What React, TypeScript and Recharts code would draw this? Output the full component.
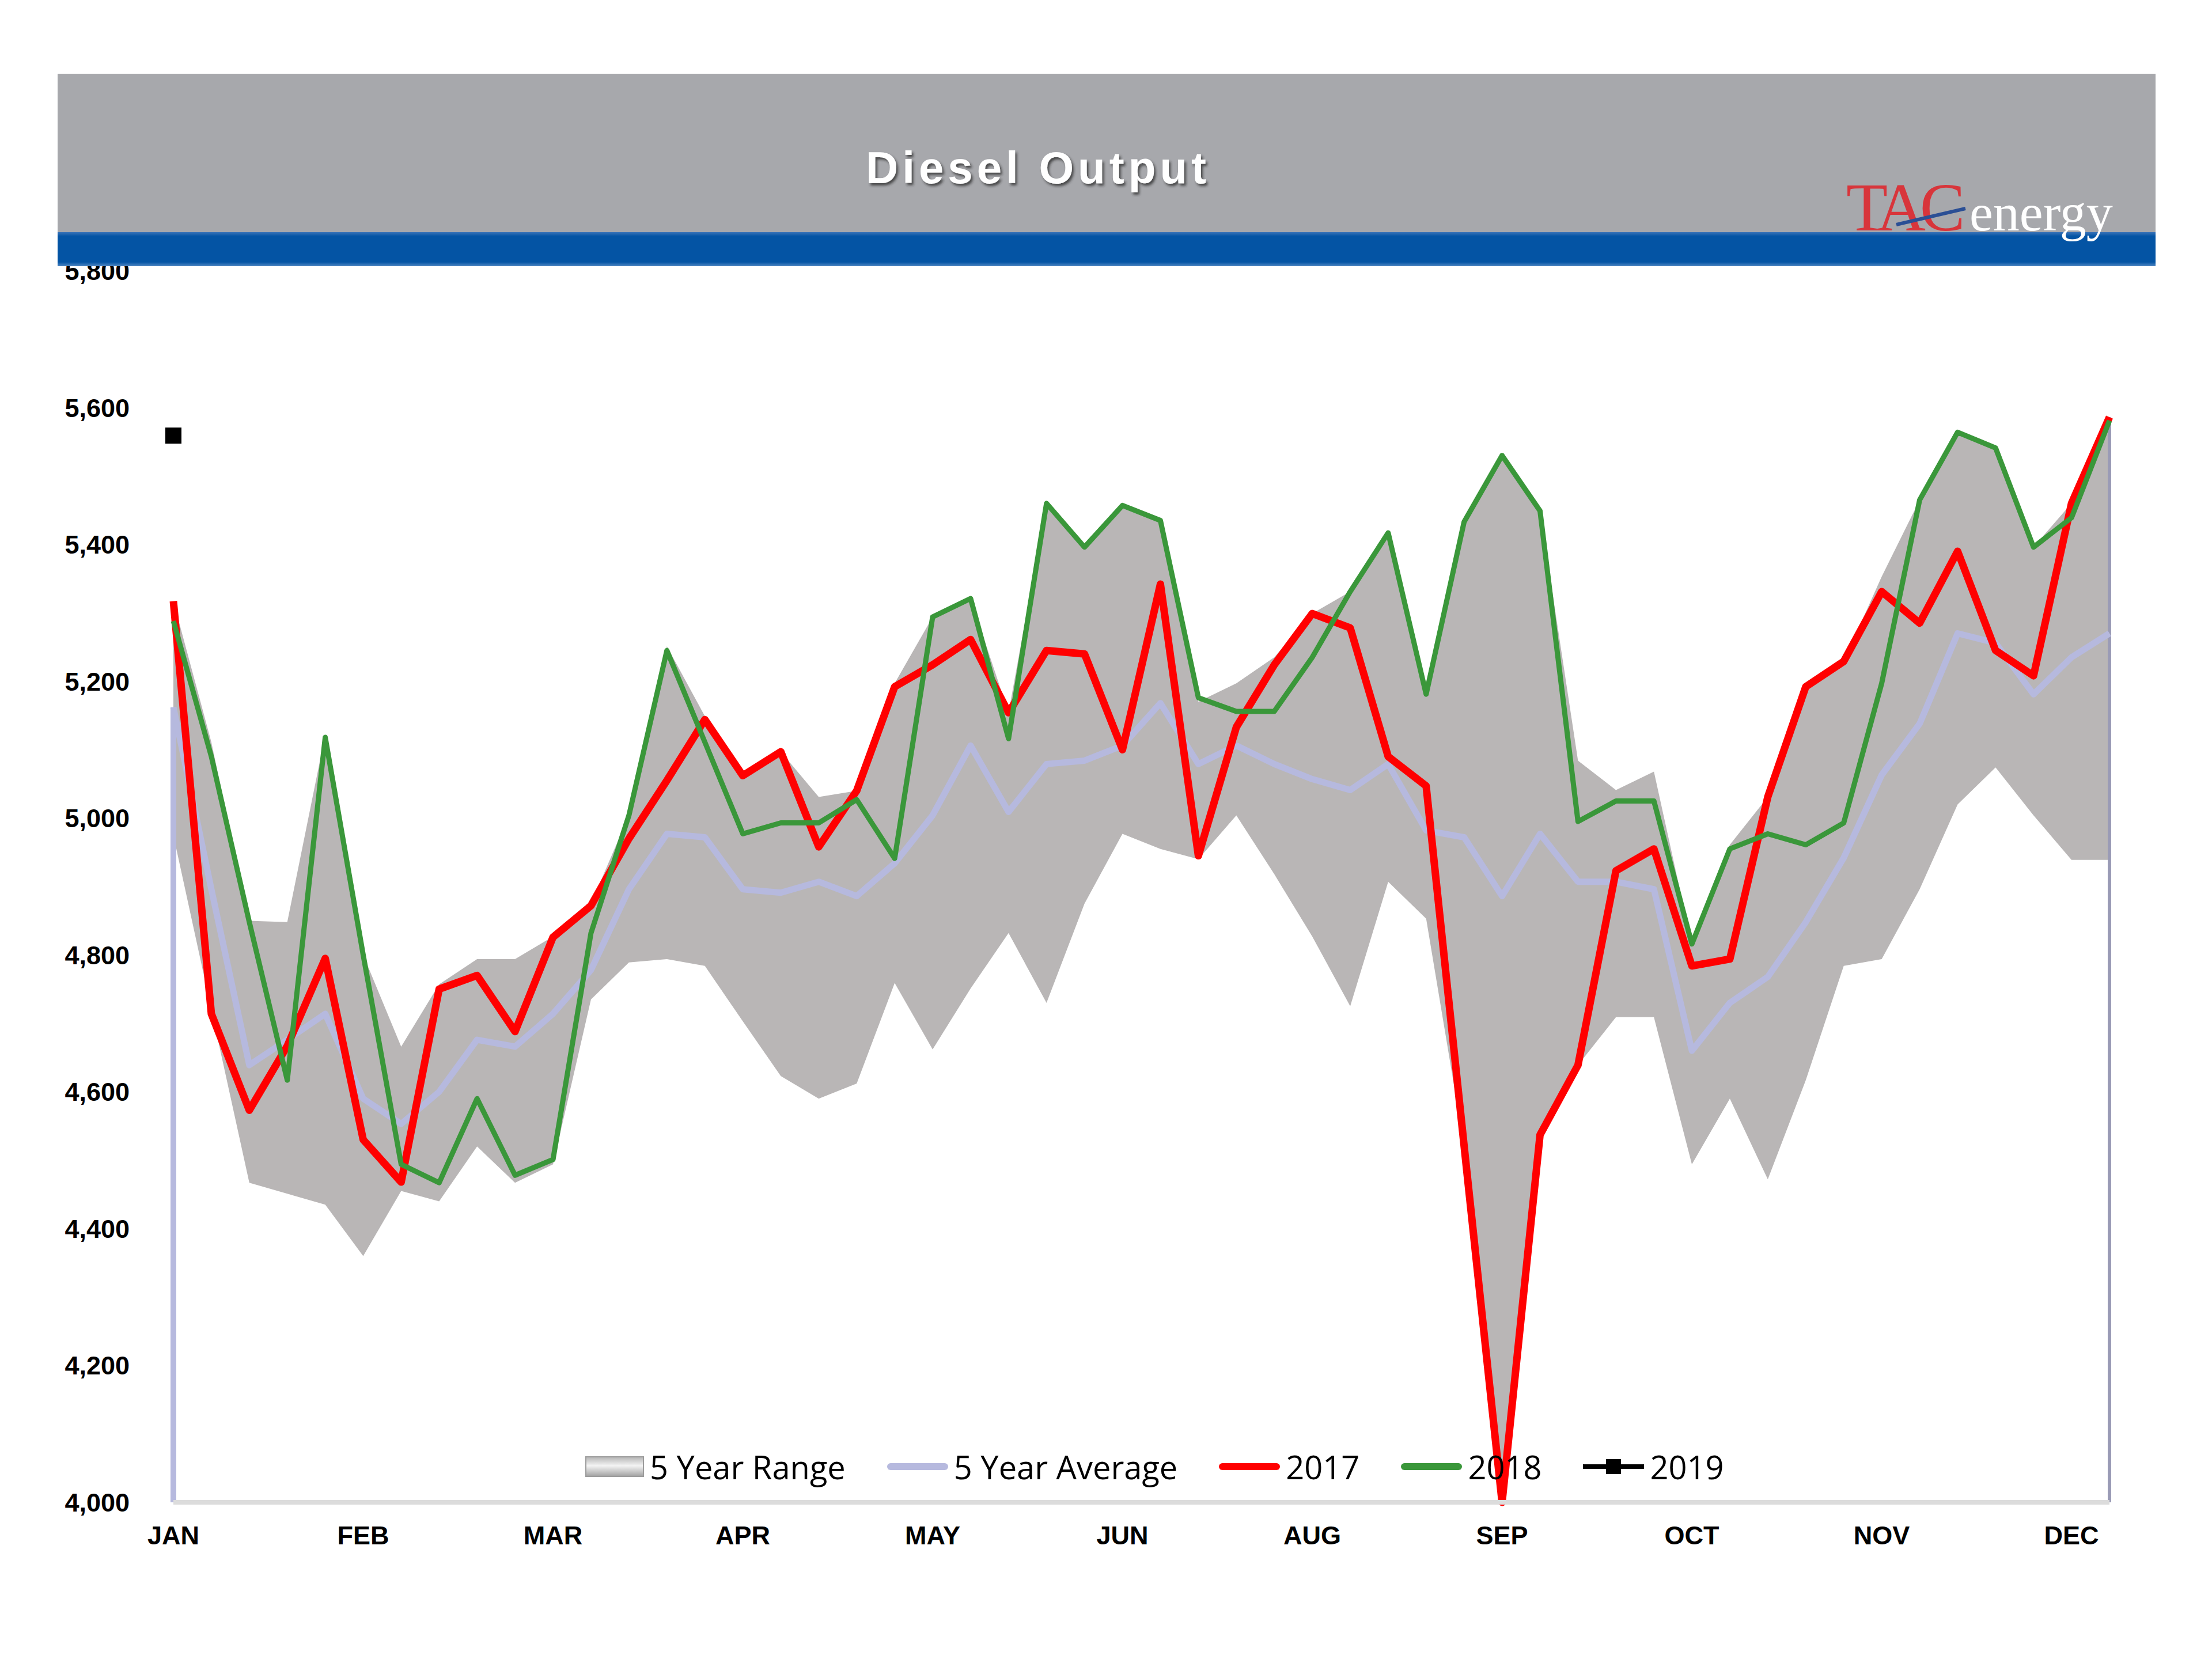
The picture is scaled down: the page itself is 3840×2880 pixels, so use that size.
import {
  ComposedChart,
  Area,
  Line,
  XAxis,
  YAxis,
  Legend,
  ReferenceLine,
} from 'recharts';

// weekly points, labels every 5th week
const weeks = Array.from({ length: 52 }, (_, i) => i + 1);
const monthTicks = [1, 6, 11, 16, 21, 26, 31, 36, 41, 46, 51];
const monthLabels = ['JAN', 'FEB', 'MAR', 'APR', 'MAY', 'JUN', 'AUG', 'SEP', 'OCT', 'NOV', 'DEC'];
const yTicks = [4000, 4200, 4400, 4600, 4800, 5000, 5200, 5400, 5600, 5800];

const rangeLow = [
  4975, 4720, 4467, 4451, 4435, 4360, 4455, 4440, 4520, 4467,
  4494, 4735, 4789, 4794, 4784, 4703, 4623, 4590, 4612, 4759,
  4662, 4751, 4832, 4730, 4875, 4977, 4955, 4940, 5004, 4918,
  4827, 4725, 4907, 4853, 4521, 4000, 4537, 4639, 4709, 4709,
  4494, 4590, 4472, 4617, 4784, 4794, 4896, 5020, 5074, 5004,
  4939, 4939,
];
const rangeHigh = [
  5317, 5111, 4850, 4848, 5122, 4800, 4666, 4757, 4794, 4794,
  4827, 4875, 5004, 5251, 5149, 5063, 5097, 5031, 5040, 5197,
  5294, 5321, 5154, 5460, 5396, 5457, 5435, 5170, 5197, 5235,
  5299, 5331, 5417, 5181, 5433, 5530, 5449, 5084, 5041, 5068,
  4816, 4961, 5031, 5197, 5229, 5353, 5465, 5564, 5541, 5396,
  5460, 5586,
];
const avg5 = [
  5162, 4896, 4639, 4676, 4714, 4590, 4553, 4600, 4676, 4666,
  4714, 4778, 4896, 4977, 4972, 4896, 4891, 4907, 4886, 4934,
  5004, 5106, 5009, 5079, 5084, 5106, 5168, 5079, 5106, 5079,
  5057, 5041, 5079, 4982, 4972, 4886, 4977, 4907, 4907, 4896,
  4660, 4730, 4768, 4848, 4942, 5063, 5138, 5270, 5256, 5181,
  5235, 5270,
];
const y2017 = [
  5317, 4714, 4573, 4667, 4795, 4530, 4468, 4750, 4770, 4688,
  4826, 4872, 4970, 5055, 5144, 5062, 5097, 4958, 5040, 5192,
  5224, 5261, 5154, 5245, 5240, 5100, 5342, 4945, 5133, 5224,
  5299, 5278, 5090, 5047, 4521, 4000, 4537, 4639, 4923, 4955,
  4784, 4794, 5031, 5192, 5229, 5331, 5285, 5390, 5245, 5208,
  5460, 5586,
];
const y2018 = [
  5288, 5090, 4848, 4617, 5118, 4800, 4494, 4467, 4590, 4478,
  4501, 4832, 5004, 5245, 5111, 4977, 4993, 4993, 5027, 4941,
  5294, 5321, 5116, 5460, 5396, 5457, 5435, 5176, 5156, 5156,
  5235, 5331, 5417, 5181, 5433, 5530, 5449, 4995, 5025, 5025,
  4816, 4955, 4977, 4961, 4993, 5197, 5465, 5564, 5541, 5396,
  5439, 5581,
];
const y2019 = [5559];

const data = weeks.map((week, i) => ({
  week,
  range: [rangeLow[i], rangeHigh[i]],
  avg: avg5[i],
  y2017: y2017[i],
  y2018: y2018[i],
  y2019: y2019[i] ?? null,
}));

const RANGE_FILL = '#b9b6b6';
const AVG_COLOR = '#b6b9de';
const RED = '#ff0000';
const GREEN = '#3a973a';

const tickStyle = {
  fontSize: 45,
  fontWeight: 700,
  fill: '#000',
  fontFamily: '"Liberation Sans", Arial, sans-serif',
};

const legendItems = [
  { label: '5 Year Range', kind: 'range' },
  { label: '5 Year Average', kind: 'line', color: AVG_COLOR },
  { label: '2017', kind: 'line', color: RED },
  { label: '2018', kind: 'line', color: GREEN },
  { label: '2019', kind: 'marker', color: '#000' },
];

function LegendSwatch({ kind, color }: { kind: string; color?: string }) {
  if (kind === 'range') {
    return (
      <div
        style={{
          width: 102,
          height: 36,
          boxSizing: 'border-box',
          border: '2px solid #9c9c9c',
          background: 'linear-gradient(#b8b8b8, #f4f4f4 45%, #a6a6a6)',
        }}
      />
    );
  }
  if (kind === 'marker') {
    return (
      <div style={{ position: 'relative', width: 106, height: 28 }}>
        <div style={{ position: 'absolute', left: 0, right: 0, top: 10, height: 8, background: color }} />
        <div style={{ position: 'absolute', left: 40, top: 1, width: 26, height: 26, background: color }} />
      </div>
    );
  }
  return <div style={{ width: 106, height: 12, borderRadius: 6, background: color }} />;
}

function renderLegend() {
  return (
    <div
      style={{
        display: 'flex',
        alignItems: 'center',
        fontFamily: '"Open Sans", sans-serif',
        fontSize: 56,
        color: '#000',
        whiteSpace: 'nowrap',
      }}
    >
      {legendItems.map((item) => (
        <div key={item.label} style={{ display: 'flex', alignItems: 'center', marginRight: 72 }}>
          <LegendSwatch kind={item.kind} color={item.color} />
          <span style={{ marginLeft: 10 }}>{item.label}</span>
        </div>
      ))}
    </div>
  );
}

function SquareDot(props: any) {
  const { cx, cy, index, value } = props;
  if (value == null || cy == null || Number.isNaN(cy)) {
    return <g key={`sq-${index}`} />;
  }
  return <rect key={`sq-${index}`} x={cx - 14} y={cy - 14} width={28} height={28} fill="#000" />;
}

function Header() {
  return (
    <svg
      width={3840}
      height={470}
      style={{ position: 'absolute', left: 0, top: 0 }}
    >
      <defs>
        <filter id="titleShadow" x="-10%" y="-30%" width="120%" height="160%">
          <feDropShadow dx="3" dy="4" stdDeviation="2" floodColor="#2a2a2a" floodOpacity="0.75" />
        </filter>
        <linearGradient id="blueBand" x1="0" y1="0" x2="0" y2="1">
          <stop offset="0" stopColor="#3a73b8" />
          <stop offset="0.12" stopColor="#0454a4" />
          <stop offset="0.88" stopColor="#0454a4" />
          <stop offset="1" stopColor="#4f86c2" />
        </linearGradient>
      </defs>
      <rect x={100} y={128} width={3642} height={276} fill="#a7a8ac" />
      <rect x={100} y={403} width={3642} height={59} fill="url(#blueBand)" />
      <text
        x={1802}
        y={318}
        textAnchor="middle"
        fill="#fff"
        fontSize={78}
        fontWeight={700}
        letterSpacing={7}
        fontFamily='"Liberation Sans", Arial, sans-serif'
        filter="url(#titleShadow)"
      >
        Diesel Output
      </text>
      <text
        x={3205}
        y={400}
        fill="#d8353b"
        fontSize={118}
        letterSpacing={-10}
        fontFamily='"Liberation Serif", "Times New Roman", serif'
      >
        TAC
      </text>
      <text
        x={3419}
        y={400}
        fill="#fff"
        fontSize={92}
        fontFamily='"Liberation Serif", "Times New Roman", serif'
      >
        energy
      </text>
      <line x1={3292} y1={390} x2={3412} y2={362} stroke="#2b4f95" strokeWidth={6} />
    </svg>
  );
}

export default function App() {
  return (
    <div
      style={{
        position: 'absolute',
        left: 0,
        top: 0,
        width: 3840,
        height: 2880,
        background: '#fff',
        overflow: 'hidden',
      }}
    >
      <ComposedChart
        width={3840}
        height={2880}
        data={data}
        margin={{ top: 470, right: 178, bottom: 172, left: 60 }}
      >
        <XAxis
          dataKey="week"
          type="number"
          domain={[1, 52]}
          ticks={monthTicks}
          tickFormatter={(v: number) => monthLabels[monthTicks.indexOf(v)] ?? ''}
          interval={0}
          height={100}
          tickSize={0}
          tickMargin={41}
          tick={tickStyle}
          axisLine={{ stroke: '#dcdcdc', strokeWidth: 8 }}
        />
        <YAxis
          type="number"
          domain={[4000, 5800]}
          ticks={yTicks}
          width={241}
          tickSize={0}
          tickMargin={76}
          tick={tickStyle}
          axisLine={false}
          tickFormatter={(v: number) => v.toLocaleString('en-US')}
        />
        <Area
          dataKey="range"
          type="linear"
          fill={RANGE_FILL}
          fillOpacity={1}
          stroke="none"
          isAnimationActive={false}
          activeDot={false}
        />
        <ReferenceLine
          segment={[{ x: 1, y: 4000 }, { x: 1, y: avg5[0] }]}
          stroke={AVG_COLOR}
          strokeWidth={10}
        />
        <ReferenceLine
          segment={[{ x: 52, y: 4000 }, { x: 52, y: rangeHigh[51] }]}
          stroke="#9a9bb6"
          strokeWidth={6}
        />
        <Line
          dataKey="avg"
          type="linear"
          stroke={AVG_COLOR}
          strokeWidth={11}
          strokeLinejoin="round"
          dot={false}
          isAnimationActive={false}
        />
        <Line
          dataKey="y2017"
          type="linear"
          stroke={RED}
          strokeWidth={13}
          strokeLinejoin="round"
          dot={false}
          isAnimationActive={false}
        />
        <Line
          dataKey="y2018"
          type="linear"
          stroke={GREEN}
          strokeWidth={9}
          strokeLinejoin="round"
          dot={false}
          isAnimationActive={false}
        />
        <Line
          dataKey="y2019"
          type="linear"
          stroke="#000"
          strokeWidth={4}
          dot={SquareDot}
          isAnimationActive={false}
        />
        <Legend
          layout="vertical"
          align="center"
          verticalAlign="middle"
          wrapperStyle={{ left: 1016, top: 2508, width: 'auto' }}
          content={renderLegend}
        />
      </ComposedChart>
      <Header />
    </div>
  );
}
